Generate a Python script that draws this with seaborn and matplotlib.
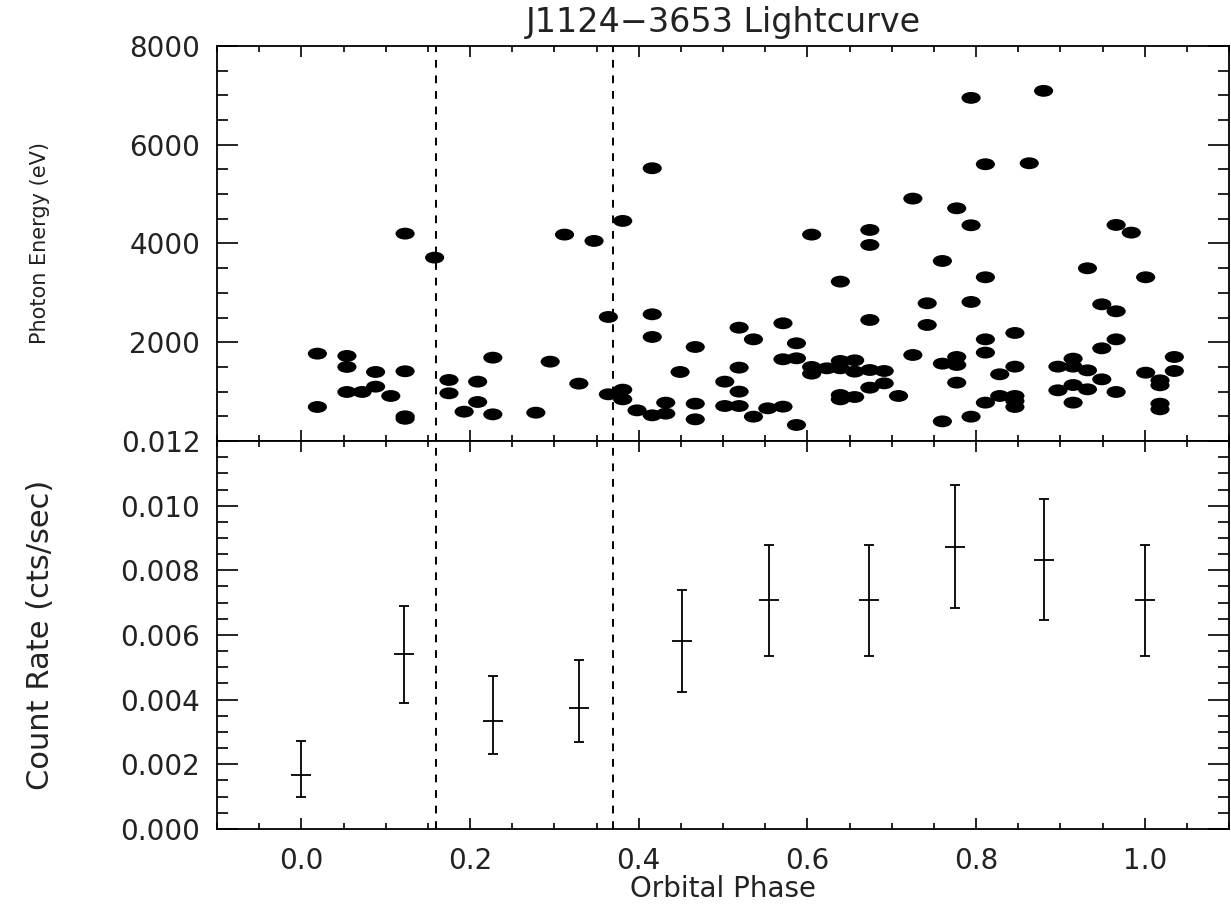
import numpy as np
import pandas as pd
import matplotlib
matplotlib.use("Agg")
import matplotlib.pyplot as plt
import seaborn as sns
from matplotlib.path import Path
from matplotlib.transforms import Affine2D
from matplotlib.ticker import MultipleLocator, FormatStrFormatter

# photon events (orbital phase, energy in eV)
phase_evt = [0.019, 0.019, 0.054, 0.054, 0.054, 0.072, 0.088, 0.088, 0.106,
             0.123, 0.123, 0.123, 0.123, 0.158, 0.175, 0.175, 0.193, 0.209,
             0.209, 0.227, 0.227, 0.278, 0.295, 0.312, 0.329, 0.347, 0.364,
             0.364, 0.381, 0.381, 0.381, 0.398, 0.416, 0.416, 0.416, 0.416,
             0.432, 0.432, 0.449, 0.467, 0.467, 0.467,
             0.502, 0.502, 0.519, 0.519, 0.519, 0.519, 0.536, 0.536, 0.553,
             0.571, 0.571, 0.571, 0.587, 0.587, 0.587, 0.605, 0.605, 0.605,
             0.623, 0.639, 0.639, 0.639, 0.639, 0.639, 0.656, 0.656, 0.656,
             0.674, 0.674, 0.674, 0.674, 0.674, 0.691, 0.691, 0.708, 0.725,
             0.725, 0.742, 0.742, 0.760, 0.760, 0.760, 0.777, 0.777, 0.777,
             0.777, 0.794, 0.794, 0.794, 0.794, 0.811, 0.811, 0.811, 0.811,
             0.811, 0.828, 0.828, 0.846, 0.846, 0.846, 0.846, 0.846, 0.863,
             0.880, 0.897, 0.897, 0.915, 0.915, 0.915, 0.915, 0.932, 0.932,
             0.932, 0.949, 0.949, 0.949, 0.966, 0.966, 0.966, 0.966, 0.984,
             1.001, 1.001, 1.018, 1.018, 1.018, 1.018, 1.035, 1.035]
energy_evt = [1769, 689, 1723, 1500, 993, 993, 1398, 1101, 912,
              4200, 1412, 500, 450, 3714, 1236, 966, 594, 1202,
              790, 1688, 540, 574, 1607, 4180, 1162, 4052, 2512,
              946, 4457, 1040, 844, 621, 5524, 2566, 2107, 520,
              777, 554, 1398, 1904, 756, 439,
              1202, 709, 2295, 1486, 1000, 709, 2059, 493, 662,
              2384, 1655, 696, 1979, 1675, 325, 4180, 1500, 1364,
              1472, 3228, 1621, 1472, 932, 844, 1634, 1405, 891,
              4274, 3970, 2451, 1438, 1080, 1418, 1168, 912, 4909,
              1742, 2789, 2350, 3646, 1567, 398, 4713, 1702, 1540,
              1182, 6949, 4369, 2816, 493, 5605, 3316, 2059, 1790,
              777, 1351, 912, 2188, 1506, 912, 810, 689, 5625,
              7091, 1506, 1027, 1668, 1506, 1134, 777, 3498, 1431,
              1047, 2768, 1877, 1249, 4376, 2627, 2059, 993, 4220,
              3316, 1384, 1229, 1128, 756, 642, 1702, 1418]

# binned count rate
rate_phase = [0.0, 0.122, 0.227, 0.329, 0.451, 0.555, 0.673, 0.775, 0.880, 1.0]
rate = [0.00167, 0.00542, 0.00334, 0.00375, 0.00582, 0.00708, 0.00708, 0.00873, 0.00831, 0.00708]
rate_hi = [0.00272, 0.00691, 0.00474, 0.00522, 0.00739, 0.00879, 0.00879, 0.01064, 0.0102, 0.00879]
rate_lo = [0.00099, 0.00391, 0.00233, 0.00268, 0.00425, 0.00535, 0.00535, 0.00685, 0.00647, 0.00535]

eclipse = [0.16, 0.37]

sns.set_theme(style="ticks")
plt.rcParams['font.family'] = ['DejaVu Sans']
plt.rcParams['axes.linewidth'] = 1.3
plt.rcParams['text.color'] = '#222222'
plt.rcParams['axes.labelcolor'] = '#222222'

events = pd.DataFrame({"phase": phase_evt, "energy": energy_evt})

# flattened ellipse marker
ell = Path.unit_circle().transformed(Affine2D().scale(1.0, 0.62))

fig = plt.figure(figsize=(12.31, 9.05), dpi=100)
ax1 = fig.add_axes([0.1763, 0.5127, 0.8222, 0.4365])
ax2 = fig.add_axes([0.1763, 0.0840, 0.8222, 0.4287])

sns.scatterplot(data=events, x="phase", y="energy", ax=ax1, marker=ell,
                s=190, color="black", edgecolor="none", legend=False)

yerr = [np.array(rate) - np.array(rate_lo), np.array(rate_hi) - np.array(rate)]
ax2.errorbar(rate_phase, rate, yerr=yerr, fmt="_", color="black",
             markersize=15, markeredgewidth=1.3, elinewidth=1.3,
             capsize=3.5, capthick=1.3)

for ax in (ax1, ax2):
    for xv in eclipse:
        ax.axvline(xv, color="black", lw=1.4, dashes=(4, 4))
    ax.set_xlim(-0.1, 1.1)
    ax.xaxis.set_major_locator(MultipleLocator(0.2))
    ax.xaxis.set_minor_locator(MultipleLocator(0.05))
    ax.tick_params(which="both", direction="in", top=True, right=True,
                   width=1.2, labelsize=20, colors="black",
                   labelcolor="#222222")
    ax.tick_params(axis="x", which="major", length=8)
    ax.tick_params(axis="x", which="minor", length=4)
    ax.tick_params(axis="y", which="major", length=15, pad=12)
    ax.tick_params(axis="y", which="minor", length=8)
    for sp in ax.spines.values():
        sp.set_color("black")

ax1.set_ylim(0, 8000)
ax1.set_yticks([2000, 4000, 6000, 8000])
ax1.yaxis.set_minor_locator(MultipleLocator(500))
ax1.tick_params(axis="x", labelbottom=False)
ax1.set_xlabel("")
ax1.set_ylabel("Photon Energy (eV)", fontsize=15)
ax1.yaxis.set_label_coords(-0.165, 0.5)
ax1.set_title("J1124\u22123653 Lightcurve", fontsize=24, pad=10)

ax2.set_ylim(0, 0.012)
ax2.yaxis.set_major_locator(MultipleLocator(0.002))
ax2.yaxis.set_minor_locator(MultipleLocator(0.0005))
ax2.yaxis.set_major_formatter(FormatStrFormatter("%.3f"))
ax2.xaxis.set_major_formatter(FormatStrFormatter("%.1f"))
ax2.tick_params(axis="x", which="major", pad=13)
ax2.set_xlabel("Orbital Phase", fontsize=20, labelpad=0)
ax2.set_ylabel("Count Rate (cts/sec)", fontsize=22)
ax2.yaxis.set_label_coords(-0.16, 0.5)

fig.savefig("out.png", dpi=100)
